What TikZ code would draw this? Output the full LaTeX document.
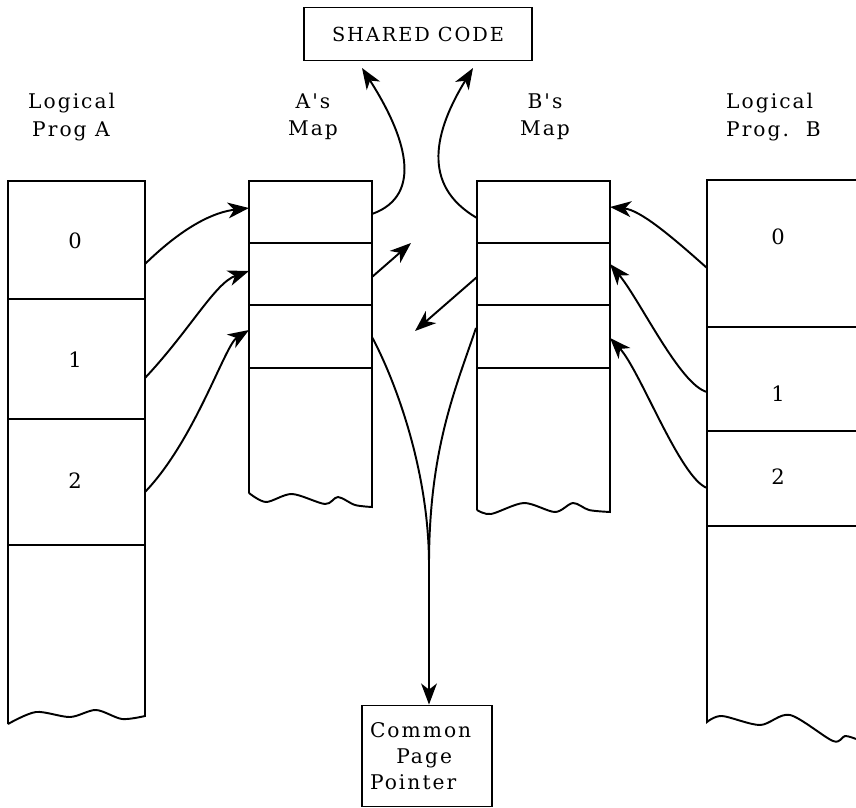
\documentclass[tikz,border=0pt]{standalone}
\usepackage{fontspec}
\usetikzlibrary{arrows.meta}
\newfontfamily\labelfont{DejaVu Serif}[LetterSpace=10]
\tikzset{
  mem/.style={line width=1.1pt},
  ptr/.style={line width=1.1pt,-{Stealth[length=12pt,width=9pt,inset=3.5pt]}},
  lbl/.style={font=\labelfont\fontsize{11.5}{15.5}\selectfont,align=left},
  num/.style={font=\labelfont\fontsize{12}{14}\selectfont},
  box/.style={draw,line width=1.1pt,inner sep=0pt}
}
\begin{document}
\begin{tikzpicture}[x=0.02cm,y=-0.02cm]
 \useasboundingbox (0,0) rectangle (856,808);
 % logical program A
 \draw[mem] (8,724) -- (8,181) -- (145,181) -- (145,716)
   -- plot[smooth] coordinates {(145,716) (122,719) (96,710) (70,717) (36,712) (8,724)};
 \foreach \y in {299,419,545} \draw[mem] (8,\y) -- (145,\y);
 \node[lbl,anchor=west] (progA) at (22,117) {Logical\\\hspace*{0.2em}Prog A};
 \node[num] (pa0) at (75,241) {0};
 \node[num] (pa1) at (75,360) {1};
 \node[num] (pa2) at (75,481) {2};
 % A's map
 \draw[mem] (249,493) -- (249,181) -- (372,181) -- (372,507)
   -- plot[smooth] coordinates {(372,507) (355,505) (338,497) (325,504) (292,494) (266,502) (249,493)};
 \foreach \y in {243,305,368} \draw[mem] (249,\y) -- (372,\y);
 \node[lbl,align=center] (mapA) at (313,117) {A's\\Map};
 % B's map
 \draw[mem] (477,510) -- (477,181) -- (610,181) -- (610,512)
   -- plot[smooth] coordinates {(610,512) (589,510) (573,503) (555,512) (524,503) (491,514) (477,510)};
 \foreach \y in {243,305,368} \draw[mem] (477,\y) -- (610,\y);
 \node[lbl,align=center] (mapB) at (545,117) {B's\\Map};
 % logical program B
 \draw[mem] (856,180) -- (707,180) -- (707,722)
   -- plot[smooth] coordinates {(707,722) (722,716) (760,725) (790,715) (833,741) (845,736) (856,739)};
 \foreach \y in {327,431,526} \draw[mem] (707,\y) -- (856,\y);
 \node[lbl,anchor=west] (progB) at (720,117) {Logical\\Prog.\ \ B};
 \node[num] (pb0) at (778,237) {0};
 \node[num] (pb1) at (778,394) {1};
 \node[num] (pb2) at (778,477) {2};
 % boxes
 \node[box,minimum width=4.56cm,minimum height=1.06cm,font=\labelfont\fontsize{11}{13}\selectfont] (shared) at (418,34) {SHARED CODE};
 \node[box,minimum height=2.02cm,inner xsep=0.16cm,text width=2.28cm,align=left,font=\labelfont\fontsize{11.5}{15}\selectfont] (cpp) at (427,756) {Common\\\hspace*{1.3em}Page\\Pointer};
 % ends of the pointers
 \coordinate (a0) at (145,264); \coordinate (ma0) at (249,208);
 \coordinate (a1) at (145,378); \coordinate (ma1) at (249,271);
 \coordinate (a2) at (145,492); \coordinate (ma2) at (249,330);
 \coordinate (b0) at (707,268); \coordinate (mb0) at (610,207);
 \coordinate (b1) at (707,392); \coordinate (mb1) at (610,264);
 \coordinate (b2) at (707,488); \coordinate (mb2) at (610,338);
 \coordinate (ra0) at (372,214); \coordinate (shA) at (362,68);
 \coordinate (lb0) at (477,218); \coordinate (shB) at (473,68);
 \coordinate (ra1) at (372,277); \coordinate (offA) at (411,243);
 \coordinate (lb1) at (477,277); \coordinate (offB) at (415,331);
 \coordinate (ra2) at (372,337); \coordinate (lb2) at (476,328);
 \coordinate (join) at (429,565);
 % program A -> A's map
 \draw[ptr] (a0) .. controls (185,225) and (215,212) .. (ma0);
 \draw[ptr] (a1) .. controls (190,330) and (215,283) .. (ma1);
 \draw[ptr] (a2) .. controls (195,440) and (225,345) .. (ma2);
 % program B -> B's map
 \draw[ptr] (b0) .. controls (670,235) and (640,210) .. (mb0);
 \draw[ptr] (b1) .. controls (680,385) and (640,300) .. (mb1);
 \draw[ptr] (b2) .. controls (680,478) and (640,370) .. (mb2);
 % maps -> shared code
 \draw[ptr] (ra0) .. controls (425,195) and (405,135) .. (shA);
 \draw[ptr] (lb0) .. controls (420,185) and (435,130) .. (shB);
 \draw[ptr] (ra1) -- (offA);
 \draw[ptr] (lb1) -- (offB);
 % maps -> common page pointer
 \draw[mem] (ra2) .. controls (395,380) and (429,470) .. (join);
 \draw[mem] (lb2) .. controls (455,390) and (429,450) .. (join);
 \draw[ptr] (join) -- (join |- cpp.north);
\end{tikzpicture}
\end{document}
